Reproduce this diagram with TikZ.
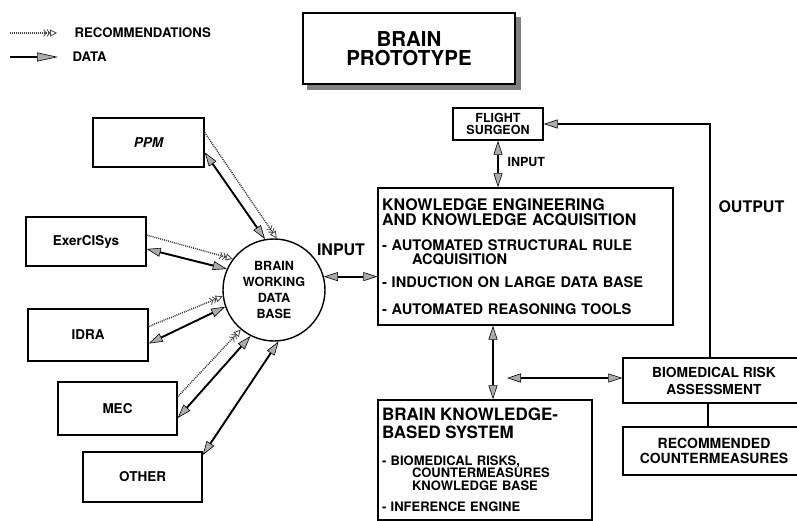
\documentclass[tikz,border=0pt]{standalone}
\usepackage{fontspec}
\setmainfont{TeX Gyre Heros}
\usetikzlibrary{arrows.meta}
\newcommand{\fsz}[2]{\fontsize{#1}{#2}\selectfont\bfseries}

\begin{document}
\begin{tikzpicture}[x=1pt, y=-1pt,
        box/.style={draw, line width=1.4pt, align=center, inner sep=0pt, fill=white},
        dataarrow/.style={line width=1.9pt, {Triangle[length=14pt, width=9pt, fill=gray!65, line width=0.6pt]}-{Triangle[length=14pt, width=9pt, fill=gray!65, line width=0.6pt]}},
        recline/.style={gray!50!black, line width=1.5pt, dash pattern=on 1pt off 1pt, -{Straight Barb[length=2.5pt, width=7pt, line width=0.8pt] Straight Barb[length=2.5pt, width=7pt, line width=0.8pt] Triangle[open, length=7pt, width=7pt, line width=0.8pt]}}]
        \useasboundingbox (0,0) rectangle (797,521);

        % legend
        \coordinate (recA) at (10,33);
        \coordinate (recB) at (57,33);
        \coordinate (datA) at (10,57);
        \coordinate (datB) at (58,57);
        \draw[recline] (recA) -- (recB);
        \draw[line width=1.9pt, -{Triangle[length=21pt, width=9pt, fill=gray!65, line width=0.6pt]}] (datA) -- (datB);
        \node[anchor=west, font=\fsz{13.2}{15}] (reclbl) at (71,33) {RECOMMENDATIONS};
        \node[anchor=west, font=\fsz{13.2}{15}] (datlbl) at (69,57) {DATA};

        % title with its shadow
        \node[box, minimum width=212pt, minimum height=71pt, font=\fsz{20.5}{19}] (proto) at (409,48.5) {BRAIN\\PROTOTYPE};
        \fill[black!50] (307,84.7) rectangle (520.5,90.5);
        \fill[black!50] (515.7,17) rectangle (520.5,90.5);

        % left sources
        \node[box, minimum width=111pt, minimum height=49pt, font=\fsz{13.5}{15}\itshape] (ppm) at (148.5,142.5) {PPM};
        \node[box, minimum width=120pt, minimum height=49pt, font=\fsz{13.5}{15}] (ex) at (86,241.5) {ExerCISys};
        \node[box, minimum width=120pt, minimum height=52pt, font=\fsz{13.5}{15}] (idra) at (88,335) {IDRA};
        \node[box, minimum width=119pt, minimum height=53pt, font=\fsz{13.5}{15}] (mec) at (117.5,408.5) {MEC};
        \node[box, minimum width=119pt, minimum height=50pt, font=\fsz{13.5}{15}] (oth) at (142.5,477) {OTHER};

        % working data base
        \node[circle, draw, line width=1.4pt, minimum size=102pt, inner sep=0pt, align=center, font=\fsz{12.6}{15.7}] (db) at (274,290) {BRAIN\\WORKING\\DATA\\BASE};

        % right side
        \node[box, minimum width=90pt, minimum height=32pt, font=\fsz{12.5}{12}] (fs) at (498,124) {FLIGHT\\SURGEON};
        \node[box, minimum height=137pt, text width=287pt, inner xsep=4pt, align=left, font=\fsz{14.6}{14}] (ke) at (525.5,256.5)
            {{\fsz{16}{15}KNOWLEDGE ENGINEERING\\AND KNOWLEDGE ACQUISITION\par}\vspace{11pt}
            - AUTOMATED STRUCTURAL RULE\\\hspace*{30pt}ACQUISITION\\[9pt]
            - INDUCTION ON LARGE DATA BASE\\[13pt]
            - AUTOMATED REASONING TOOLS};
        \node[box, minimum height=120pt, text width=206pt, inner xsep=4pt, align=left, font=\fsz{13}{12.4}] (bk) at (485,460)
            {{\fsz{17}{18}BRAIN KNOWLEDGE-\\BASED SYSTEM\par}\vspace{14pt}
            - BIOMEDICAL RISKS,\\\hspace*{30pt}COUNTERMEASURES\\\hspace*{30pt}KNOWLEDGE BASE\\[9pt]
            - INFERENCE ENGINE};
        \node[box, minimum width=182pt, minimum height=45pt, font=\fsz{13.8}{17}] (bra) at (714,380.5) {BIOMEDICAL RISK\\ASSESSMENT};
        \node[box, minimum width=182pt, minimum height=48pt, font=\fsz{14}{15}] (rc) at (714,451) {RECOMMENDED\\COUNTERMEASURES};

        % labels
        \node[anchor=west, font=\fsz{12.5}{14}] (fsin) at (504,162) {INPUT};
        \node[font=\fsz{16}{17}] (dbin) at (341,250) {INPUT};
        \node[anchor=west, font=\fsz{16}{17}] (outlbl) at (715,207) {OUTPUT};
        \coordinate (bkr) at (507,378);

        % connectors
        \draw[recline] (ppm.10) -- (db.87);
        \draw[dataarrow] (ppm.-10) -- (db.100);
        \draw[recline] (ex.6) -- (db.143);
        \draw[dataarrow] (ex.-7) -- (db.156);
        \draw[recline] (idra.8) -- (db.187);
        \draw[dataarrow] (idra.-8) -- (db.199);
        \draw[recline] (mec.11) -- (db.230);
        \draw[dataarrow] (mec.-9) -- (db.243);
        \draw[dataarrow] (oth.20) -- (db.275);

        \draw[dataarrow] (db.15) -- (db.15 -| ke.west);
        \draw[dataarrow] (fs.south) -- (fs.south |- ke.north);
        \draw[dataarrow] ([xshift=8pt]bk.north) -- ([xshift=8pt]bk.north |- ke.south);
        \draw[dataarrow] (bkr) -- (bkr -| bra.west);
        \draw[line width=1.4pt] ([xshift=-6pt]bra.south) -- ([xshift=-6pt]rc.north);
        \draw[line width=1.4pt, -{Triangle[length=14pt, width=9pt, fill=gray!65, line width=0.6pt]}] ([xshift=-4pt]bra.north) |- (fs.east);
    \end{tikzpicture}
\end{document}
